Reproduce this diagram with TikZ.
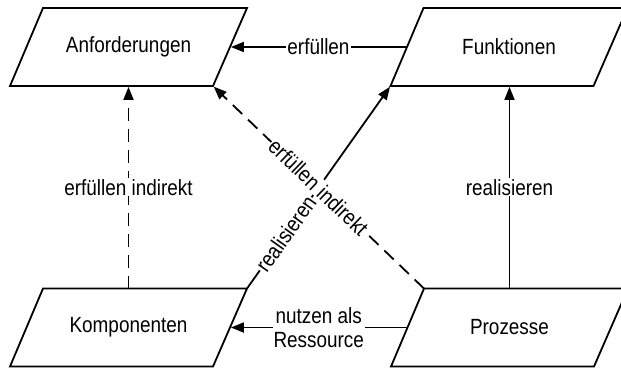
\documentclass[tikz,border=0pt]{standalone}
\usepackage{fontspec}
\setmainfont{Liberation Sans}[FakeStretch=0.86]
\usetikzlibrary{arrows.meta}

% one slanted block: name, x shift, y shift, text
\newcommand\slantblock[4]{%
  \begin{scope}[shift={(#2,#3)}]
    \coordinate (#1-tl) at (43,8);
    \coordinate (#1-tr) at (247,8);
    \coordinate (#1-br) at (213,86);
    \coordinate (#1-bl) at (10,86);
    \coordinate (#1-l) at (26.5,47);
    \coordinate (#1-r) at (230,47);
    \coordinate (#1-t) at (128.5,8);
    \coordinate (#1-b) at (128.5,86);
    \draw[blockline] (#1-tl) -- (#1-tr) -- (#1-br) -- (#1-bl) -- cycle;
    \node[blocktext] (#1) at (128.5,47) {#4};
  \end{scope}}

\begin{document}
\begin{tikzpicture}[x=1pt,y=-1pt,
  blockline/.style={line width=1.8pt, line join=miter},
  blocktext/.style={inner sep=0pt, font=\fontsize{22}{26}\selectfont},
  conn/.style={line width=1.8pt, shorten >=0.9pt, -{Triangle[length=13pt,width=10pt]}},
  dashedconn/.style={conn, dash pattern=on 13pt off 8pt},
  lbl/.style={fill=white, inner sep=1pt, font=\fontsize{22}{24}\selectfont}
]
\useasboundingbox (0,0) rectangle (621,368);

% the four blocks
\slantblock{A}{0}{0}{Anforderungen}
\slantblock{F}{380.5}{0}{Funktionen}
\slantblock{K}{0}{280.5}{Komponenten}
\slantblock{P}{381}{280.5}{Prozesse}

% relations
\draw[conn] (F-l) -- node[lbl] {erfüllen} (A-r);
\draw[dashedconn] (K-t) -- node[lbl] {erfüllen indirekt} (A-b);
\draw[conn] (P-t) -- node[lbl] {realisieren} (P-t |- F-b);
\draw[conn] (P-l) -- node[lbl, align=center] {nutzen als\\Ressource} (K-r);
\draw[conn] (K-tr) -- node[lbl, sloped, pos=0.27] {realisieren} (F-bl);
\draw[dashedconn] (P-tl) -- node[lbl, sloped] {erfüllen indirekt} (A-br);
\end{tikzpicture}
\end{document}
